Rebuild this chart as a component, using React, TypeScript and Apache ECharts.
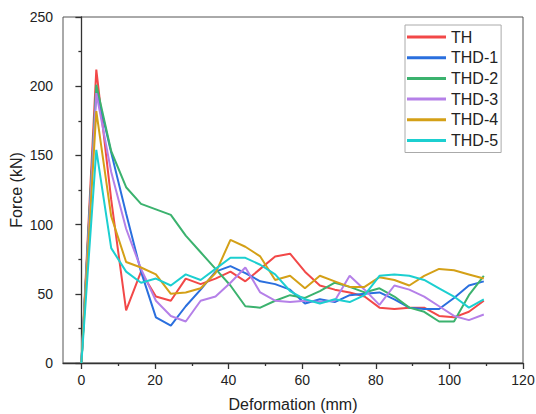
import React, { useEffect, useRef } from "react";
import * as echarts from "echarts";

const deformation = [0, 4.05, 8.1, 12.15, 16.2, 20.25, 24.3, 28.35, 32.4, 36.45, 40.5, 44.55, 48.6, 52.65, 56.7, 60.75, 64.8, 68.85, 72.9, 76.95, 81, 85.05, 89.1, 93.15, 97.2, 101.25, 105.3, 109.35];

const seriesNames = ["TH", "THD-1", "THD-2", "THD-3", "THD-4", "THD-5"];
const seriesColors = ["#F24848", "#2A6FDE", "#3BB26E", "#B580E8", "#D4A017", "#1CCFD0"];

const forceTH = [0, 212, 118, 38, 66, 48, 45, 61, 57, 61, 66, 59, 68, 77, 79, 66, 56, 53, 51, 48, 40, 39, 40, 40, 34, 33, 37, 45];
const forceTHD1 = [0, 198, 152, 108, 66, 33, 27, 41, 53, 66, 70, 65, 59, 57, 53, 43, 46, 44, 49, 50, 51, 46, 40, 39, 39, 47, 56, 59];
const forceTHD2 = [0, 201, 153, 127, 115, 111, 107, 92, 80, 68, 56, 41, 40, 45, 49, 47, 52, 58, 55, 51, 54, 48, 40, 37, 30, 30, 49, 63];
const forceTHD3 = [0, 195, 138, 97, 68, 45, 34, 30, 45, 48, 58, 69, 51, 45, 44, 45, 44, 45, 63, 53, 42, 56, 53, 48, 41, 34, 31, 35];
const forceTHD4 = [0, 182, 106, 73, 69, 64, 50, 51, 54, 65, 89, 84, 77, 60, 63, 54, 63, 59, 55, 55, 62, 60, 56, 63, 68, 67, 64, 61];
const forceTHD5 = [0, 154, 83, 66, 58, 61, 56, 64, 60, 68, 76, 76, 71, 64, 52, 46, 43, 46, 44, 49, 63, 64, 63, 60, 54, 48, 40, 46];

const xMajorTicks = [0, 20, 40, 60, 80, 100, 120];
const xMinorTicks = [10, 30, 50, 70, 90, 110];

const FONT = 'Arial, "Liberation Sans", sans-serif';
const AXIS_COLOR = "#333";

export default function App() {
  const ref = useRef<HTMLDivElement>(null);

  useEffect(() => {
    if (!ref.current) return;
    const chart = echarts.init(ref.current, undefined, { renderer: "svg" });
    const allForces = [forceTH, forceTHD1, forceTHD2, forceTHD3, forceTHD4, forceTHD5];

    chart.setOption({
      animation: false,
      backgroundColor: "#fff",
      textStyle: { fontFamily: FONT },
      grid: {
        left: 63,
        right: 13,
        top: 17,
        bottom: 51,
        containLabel: false,
        outerBoundsMode: "none",
        show: true,
        borderColor: "#555",
        borderWidth: 1,
        backgroundColor: "transparent",
      },
      legend: {
        orient: "vertical",
        left: 405,
        top: 25,
        data: seriesNames,
        icon: "rect",
        itemWidth: 39,
        itemHeight: 3,
        itemGap: 4.7,
        padding: [4, 3, 4, 2],
        borderColor: "#aaa",
        borderWidth: 1,
        textStyle: { fontFamily: FONT, fontSize: 16, color: "#222", lineHeight: 16, padding: [0, 0, 0, 0] },
      },
      xAxis: [
        {
          type: "value",
          min: -5,
          max: 120,
          name: "Deformation (mm)",
          nameLocation: "middle",
          nameGap: 33,
          nameMoveOverlap: false,
          nameTextStyle: { fontFamily: FONT, fontSize: 16, color: "#222" },
          axisLine: { show: true, lineStyle: { color: AXIS_COLOR, width: 1.3 } },
          axisTick: { show: true, inside: false, length: 6, customValues: xMajorTicks, lineStyle: { color: AXIS_COLOR, width: 1.3 } },
          axisLabel: { show: true, margin: 10, customValues: xMajorTicks, fontFamily: FONT, fontSize: 14, color: "#222" },
          splitLine: { show: false },
        },
        {
          type: "value",
          min: -5,
          max: 120,
          position: "bottom",
          axisLine: { show: false },
          axisTick: { show: true, inside: false, length: 3, customValues: xMinorTicks, lineStyle: { color: AXIS_COLOR, width: 1.3 } },
          axisLabel: { show: false },
          splitLine: { show: false },
        },
      ],
      yAxis: {
        type: "value",
        min: 0,
        max: 250,
        interval: 50,
        name: "Force (kN)",
        nameLocation: "middle",
        nameGap: 39,
        nameMoveOverlap: false,
        nameTextStyle: { fontFamily: FONT, fontSize: 16, color: "#222" },
        axisLine: { show: true, lineStyle: { color: AXIS_COLOR, width: 1.3 } },
        axisTick: { show: true, inside: false, length: 6, lineStyle: { color: AXIS_COLOR, width: 1.3 } },
        minorTick: { show: true, splitNumber: 2, length: 3, lineStyle: { color: AXIS_COLOR, width: 1.3 } },
        axisLabel: { margin: 10, fontFamily: FONT, fontSize: 14, color: "#222" },
        splitLine: { show: false },
        minorSplitLine: { show: false },
      },
      series: seriesNames.map((name, k) => ({
        name,
        type: "line",
        xAxisIndex: 0,
        showSymbol: false,
        symbol: "none",
        color: seriesColors[k],
        lineStyle: { width: 2, color: seriesColors[k] },
        data: deformation.map((x, i) => [x, allForces[k][i]]),
      })),
    });

    return () => {
      chart.dispose();
    };
  }, []);

  return (
    <div
      ref={ref}
      style={{ position: "fixed", left: 0, top: 0, width: 536, height: 414 }}
    />
  );
}
